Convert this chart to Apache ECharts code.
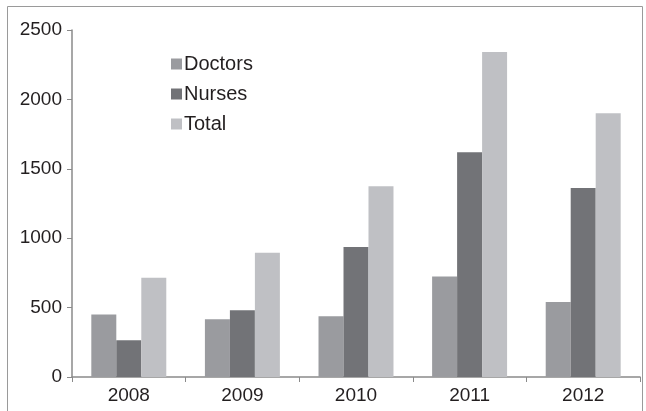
<!DOCTYPE html>
<html>
<head>
<meta charset="utf-8">
<script src="https://cdn.jsdelivr.net/npm/echarts@6/dist/echarts.min.js"></script>
<style>html,body{margin:0;padding:0;background:#fff}#c{width:646px;height:411px}</style>
</head>
<body>
<div id="c"></div>
<script>
var years = ['2008', '2009', '2010', '2011', '2012'];
var doctors = [450, 416, 438, 724, 541];
var nurses = [265, 481, 936, 1619, 1362];
var total = [715, 895, 1374, 2341, 1901];
var yTicks = [0, 500, 1000, 1500, 2000, 2500];

var chart = echarts.init(document.getElementById('c'), null, {renderer: 'canvas'});
var axisGray = '#8a8a8a';
var txt = '#231f20';
var font = 'Liberation Sans, Arial, sans-serif';
chart.setOption({
  animation: false,
  backgroundColor: '#fff',
  graphic: [{
    type: 'rect', left: 5, top: 4, silent: true,
    shape: {width: 635, height: 430},
    style: {fill: 'none', stroke: '#9a9a9a', lineWidth: 1}
  }],
  grid: {left: 72, right: 6, top: 30, bottom: 34, containLabel: false},
  legend: {
    orient: 'vertical', left: 166, top: 49, itemWidth: 11, itemHeight: 11, itemGap: 10,
    icon: 'rect',
    textStyle: {color: txt, fontSize: 20, fontFamily: font, padding: [0,0,0,-3]},
    data: ['Doctors', 'Nurses', 'Total']
  },
  xAxis: {
    type: 'category', data: years,
    axisLine: {lineStyle: {color: axisGray, width: 1.5}},
    axisTick: {show: true, alignWithLabel: false, length: 5, lineStyle: {color: axisGray}},
    axisLabel: {color: txt, fontSize: 19, fontFamily: font, margin: 9}
  },
  yAxis: {
    type: 'value', min: 0, max: 2500, interval: 500,
    axisLine: {show: true, lineStyle: {color: axisGray, width: 1.5}},
    axisTick: {show: true, length: 5, lineStyle: {color: axisGray}},
    splitLine: {show: false},
    axisLabel: {color: txt, fontSize: 19, fontFamily: font, margin: 10,
      formatter: function (v) { return yTicks.indexOf(v) >= 0 ? String(v) : ''; }}
  },
  series: [
    {name: 'Doctors', type: 'bar', data: doctors, barGap: '0%', barCategoryGap: '34%', itemStyle: {color: '#9a9b9f'}},
    {name: 'Nurses', type: 'bar', data: nurses, barGap: '0%', barCategoryGap: '34%', itemStyle: {color: '#727377'}},
    {name: 'Total', type: 'bar', data: total, barGap: '0%', barCategoryGap: '34%', itemStyle: {color: '#bfc0c4'}}
  ]
});
</script>
</body>
</html>
